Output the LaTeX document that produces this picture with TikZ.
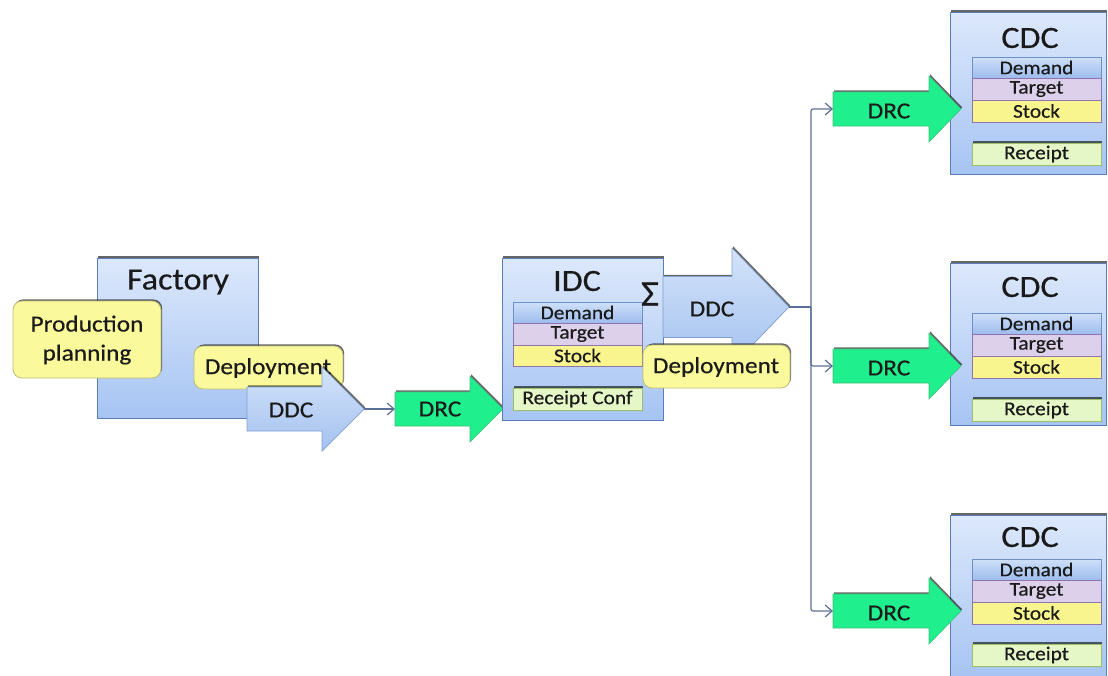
\documentclass[tikz,border=0pt]{standalone}
\usepackage{fontspec}
\setmainfont{Carlito}[FakeStretch=1.1,FakeBold=0.4]
\usetikzlibrary{arrows.meta,shadows}

\definecolor{boxtop}{HTML}{DCE8FB}
\definecolor{boxbot}{HTML}{A6C4F3}
\definecolor{boxline}{HTML}{5B7DB5}
\definecolor{yel}{HTML}{FAF99C}
\definecolor{yelline}{HTML}{BDBB7A}
\definecolor{arrtop}{HTML}{D4E3F9}
\definecolor{arrbot}{HTML}{A3C1F0}
\definecolor{arrline}{HTML}{7F9FCF}
\definecolor{grn}{HTML}{1FEF8C}
\definecolor{grnline}{HTML}{3BC47C}
\definecolor{dmtop}{HTML}{CFE0F8}
\definecolor{dmbot}{HTML}{9DBCEE}
\definecolor{dmline}{HTML}{6E90C8}
\definecolor{tgt}{HTML}{DDD0EA}
\definecolor{tgtline}{HTML}{8F74AE}
\definecolor{stk}{HTML}{F8F58E}
\definecolor{rcp}{HTML}{E5F7C6}
\definecolor{rcpline}{HTML}{9DBE63}
\definecolor{connc}{HTML}{5A7098}
\definecolor{ink}{HTML}{1A1A1A}

% block arrow: #1 style, #2 tail x, #3 head x, #4 tip x, #5 axis y, #6 body half, #7 head half
\newcommand\blkarrow[7]{%
  \path[#1] (#2,#5-#6) -- (#3,#5-#6) -- (#3,#5-#7) -- (#4,#5)
    -- (#3,#5+#7) -- (#3,#5+#6) -- (#2,#5+#6) -- cycle;}

\tikzset{
  shade edge/.style={drop shadow={shadow xshift=1.2pt,shadow yshift=1.6pt,fill=black,opacity=0.6}},
  sitebox/.style={shade edge,draw=boxline,line width=0.8pt,top color=boxtop,bottom color=boxbot,
    inner sep=0pt,outer sep=0pt,anchor=north west},
  taskbox/.style={shade edge,draw=yelline,line width=0.8pt,fill=yel,rounded corners=9pt,
    inner sep=0pt,outer sep=0pt,anchor=north west,text=ink},
  ddcarrow/.style={shade edge,draw=arrline,line width=0.7pt,top color=arrtop,bottom color=arrbot},
  drcarrow/.style={shade edge,draw=grnline,line width=0.6pt,fill=grn},
  rowbox/.style={draw,line width=0.8pt,inner sep=0pt,outer sep=0pt,anchor=north west,
    minimum width=129pt,text=ink,font=\fontsize{19.5}{20}\selectfont},
  demrow/.style={rowbox,draw=dmline,top color=dmtop,bottom color=dmbot},
  tgtrow/.style={rowbox,draw=tgtline,fill=tgt},
  stkrow/.style={rowbox,draw=tgtline,fill=stk},
  rcprow/.style={rowbox,draw=rcpline,fill=rcp,shade edge},
  title/.style={text=ink,font=\fontsize{31}{32}\selectfont},
  tasktext/.style={text=ink,font=\fontsize{23}{29}\selectfont,align=center},
  arrtext/.style={text=ink,font=\fontsize{23}{24}\selectfont},
  conn/.style={draw=connc,line width=1.2pt,rounded corners=2pt},
  connarrow/.style={conn,-{Straight Barb[length=7pt,width=12pt,line width=1.2pt]}}
}

\begin{document}
\begin{tikzpicture}[x=1pt,y=-1pt]
\useasboundingbox (0,0) rectangle (1108,675);
\begin{scope}
\clip (0,0) rectangle (1108,675);

% ---- Factory ----
\node[sitebox,minimum width=161pt,minimum height=160pt] (factory) at (97,258) {};
\node[title] (factorylbl) at (178,282) {Factory};
\node[taskbox,minimum width=148pt,minimum height=77pt] (prodplan) at (13,301) {};
\node[tasktext] (prodplanlbl) at (87,340) {Production\\planning};
\node[taskbox,minimum width=149pt,minimum height=43pt] (depA) at (194,346) {};
\node[tasktext] (depAlbl) at (268,368) {Deployment};
\blkarrow{ddcarrow}{247}{322}{364}{409}{22}{42}
\node[arrtext] (ddcA) at (291,410) {DDC};
\coordinate (ddcAtip) at (364,409);

% ---- DRC into IDC ----
\blkarrow{drcarrow}{395}{470}{503}{409}{17}{33}
\node[arrtext] (drcA) at (440,409) {DRC};
\coordinate (drcAtail) at (395,409);
\draw[connarrow] (ddcAtip) -- (drcAtail);

% ---- IDC ----
\node[sitebox,minimum width=161pt,minimum height=162pt] (idc) at (502,258) {};
\node[title] (idclbl) at (577,281) {IDC};
\node[demrow,minimum height=21pt] (idcdem) at (513,302) {Demand};
\node[tgtrow,minimum height=22pt] (idctgt) at (513,323) {Target};
\node[stkrow,minimum height=21pt] (idcstk) at (513,345) {Stock};
\node[rcprow,minimum height=22pt] (idcrcp) at (513,388) {Receipt Conf};
\node[title,font=\fontsize{36}{37}\selectfont] (sigma) at (650,294) {Σ};
\blkarrow{ddcarrow}{663}{732}{789}{307}{30.5}{59}
\node[arrtext] (ddcB) at (712,309) {DDC};
\coordinate (ddcBtip) at (789,307);
\node[taskbox,minimum width=147pt,minimum height=43pt] (depB) at (643,345) {};
\node[tasktext] (depBlbl) at (716,367) {Deployment};

% ---- distribution to the CDCs ----
\coordinate (split) at (811,307);
\draw[conn] (ddcBtip) -- (split);
\foreach \i/\y/\top/\ty/\dy/\ry in {1/109/12/38/57/143, 2/366/263/287/313/399, 3/611/515/537/559/644}{
  \node[sitebox,minimum width=156pt,minimum height=162pt] (cdc\i) at (950,\top) {};
  \node[title] (cdc\i lbl) at (1030,\ty) {CDC};
  \node[demrow,minimum height=21pt] (cdc\i dem) at (972,\dy) {Demand};
  \node[tgtrow,minimum height=22pt] (cdc\i tgt) at (972,\dy+21) {Target};
  \node[stkrow,minimum height=22pt] (cdc\i stk) at (972,\dy+43) {Stock};
  \node[rcprow,minimum height=22pt] (cdc\i rcp) at (972,\ry) {Receipt};
  \blkarrow{drcarrow}{833}{929}{961}{\y}{17}{33}
  \node[arrtext] (drc\i) at (889,\y+2) {DRC};
  \coordinate (drc\i tail) at (833,\y);
  \draw[connarrow] (split) |- (drc\i tail);
}
\end{scope}
\end{tikzpicture}
\end{document}
